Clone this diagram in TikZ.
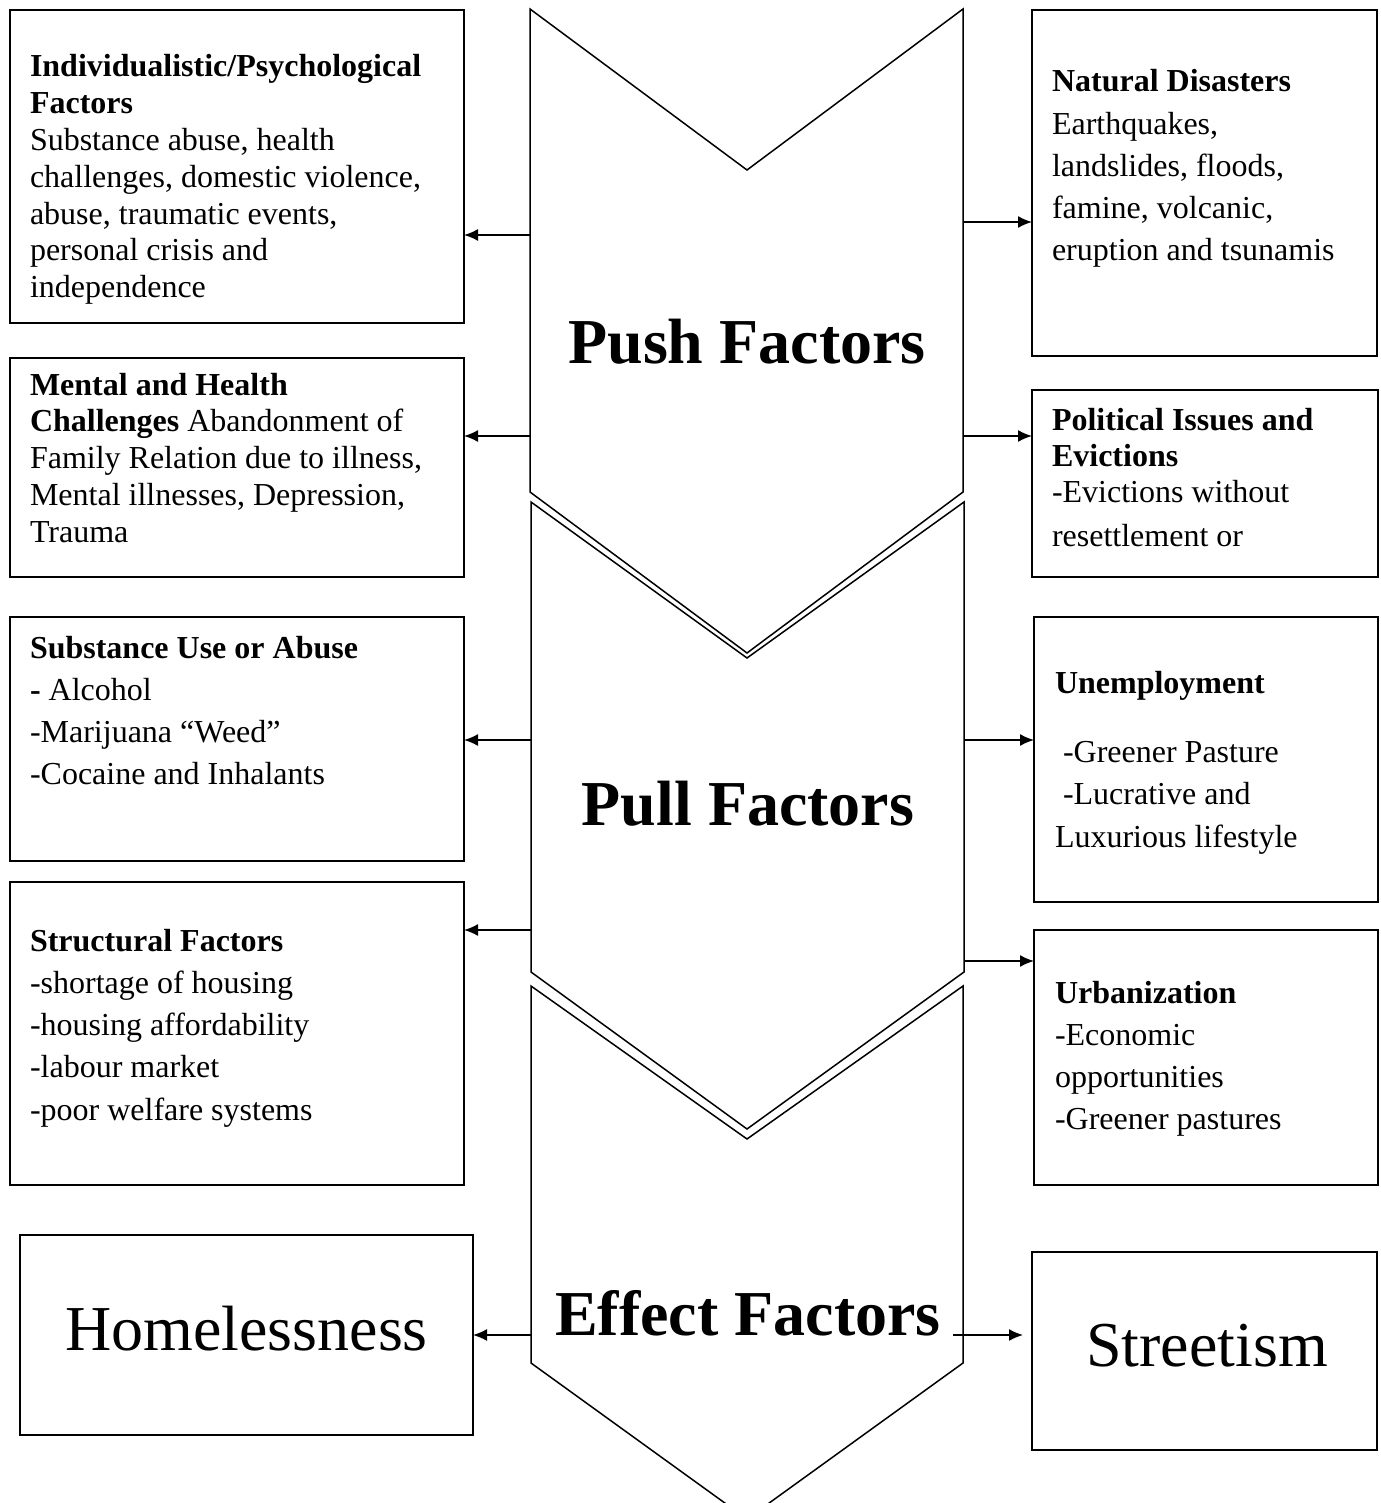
\documentclass[tikz,border=0pt]{standalone}
\usepackage{fontspec}
\setmainfont{Liberation Serif}
\usetikzlibrary{arrows.meta}
\newcommand\tightsp{\spaceskip=8pt plus 1pt minus 1pt\xspaceskip=8pt plus 1pt minus 1pt\relax}
\begin{document}
\begin{tikzpicture}[x=1pt,y=-1pt,
  box/.style={draw, line width=1.5pt, inner sep=0pt, outer sep=0pt, anchor=north west},
  txt/.style={anchor=base west, inner sep=0pt, outer sep=0pt, text width=420pt, font=\fontsize{32}{36.8}\selectfont, execute at begin node=\tightsp},
  rtxt/.style={txt, text width=320pt},
  big/.style={anchor=base, inner sep=0pt, font=\fontsize{64}{70}\selectfont},
  chev/.style={draw, fill=white, line width=1.5pt, line join=miter},
  arr/.style={line width=1.5pt, -{Latex[length=14pt,width=12pt]}}]
\useasboundingbox (0,0) rectangle (1380,1503);
\clip (0,0) rectangle (1380,1503);

% chevrons
\draw[chev] (530,9) -- (747,170) -- (963,9) -- (963,492) -- (747,653) -- (530,492) -- cycle;
\draw[chev] (531,502) -- (747,658) -- (964,502) -- (964,972) -- (747,1129) -- (531,972) -- cycle;
\draw[chev] (531,986) -- (747,1139) -- (963,986) -- (963,1363) -- (747,1519) -- (531,1363) -- cycle;

\node[big] (push) at (747,363) {\textbf{Push Factors}};
\node[big] (pull) at (748,825) {\textbf{Pull Factors}};
\node[big] (effect) at (748,1335) {\textbf{Effect Factors}};

% left boxes
\node[box, minimum width=454pt, minimum height=313pt] (L1) at (10,10) {};
\node[txt] (L1t) at (30,77) {\textbf{Individualistic/Psychological}\\\textbf{Factors}\\Substance abuse, health\\challenges, domestic violence,\\abuse, traumatic events,\\personal crisis and\\independence};

\node[box, minimum width=454pt, minimum height=219pt] (L2) at (10,358) {};
\node[txt] (L2t) at (30,395) {\textbf{Mental and Health}\\\textbf{Challenges} Abandonment of\\Family Relation due to illness,\\Mental illnesses, Depression,\\Trauma};

\node[box, minimum width=454pt, minimum height=244pt] (L3) at (10,617) {};
\node[txt, font=\fontsize{32}{42}\selectfont] (L3t) at (30,658) {\textbf{Substance Use or Abuse}\\\textbf{-} Alcohol\\-Marijuana “Weed”\\-Cocaine and Inhalants};

\node[box, minimum width=454pt, minimum height=303pt] (L4) at (10,882) {};
\node[txt, font=\fontsize{32}{42.3}\selectfont] (L4t) at (30,951) {\textbf{Structural Factors}\\-shortage of housing\\-housing affordability\\-labour market\\-poor welfare systems};

\node[box, minimum width=453pt, minimum height=200pt] (H) at (20,1235) {};
\node[anchor=base west, inner sep=0pt, font=\fontsize{64}{70}\selectfont] (Ht) at (65,1350) {Homelessness};

% right boxes
\node[box, minimum width=345pt, minimum height=346pt] (R1) at (1032,10) {};
\node[rtxt, font=\fontsize{32}{42.2}\selectfont] (R1t) at (1052,92) {\textbf{Natural Disasters}\\Earthquakes,\\landslides, floods,\\famine, volcanic,\\eruption and tsunamis};

\node[box, minimum width=346pt, minimum height=187pt] (R2) at (1032,390) {};
\node[rtxt, font=\fontsize{32}{36}\selectfont] (R2t) at (1052,430) {\textbf{Political Issues and}\\\textbf{Evictions}\\-Evictions without\\[8pt]resettlement or};

\node[box, minimum width=344pt, minimum height=285pt] (R3) at (1034,617) {};
\node[rtxt, font=\fontsize{32}{42.5}\selectfont] (R3t) at (1055,693) {\textbf{Unemployment}\\[26.5pt]\hspace*{8pt}-Greener Pasture\\\hspace*{8pt}-Lucrative and\\Luxurious lifestyle};

\node[box, minimum width=344pt, minimum height=255pt] (R4) at (1034,930) {};
\node[rtxt, font=\fontsize{32}{42.3}\selectfont] (R4t) at (1055,1003) {\textbf{Urbanization}\\-Economic\\opportunities\\-Greener pastures};

\node[box, minimum width=345pt, minimum height=198pt] (S) at (1032,1252) {};
\node[anchor=base west, inner sep=0pt, font=\fontsize{64}{70}\selectfont] (St) at (1086,1366) {Streetism};

% connectors
\coordinate (a1) at (530,235);
\coordinate (a2) at (530,436);
\coordinate (a3) at (531,740);
\coordinate (a4) at (531,930);
\coordinate (a5) at (531,1335);
\coordinate (b1) at (963,222);
\coordinate (b2) at (963,436);
\coordinate (b3) at (964,740);
\coordinate (b4) at (964,961);
\coordinate (b5) at (953,1335);
\coordinate (b5e) at (1023,1335);

\draw[arr] (a1) -- (a1 -| L1.east);
\draw[arr] (a2) -- (a2 -| L2.east);
\draw[arr] (a3) -- (a3 -| L3.east);
\draw[arr] (a4) -- (a4 -| L4.east);
\draw[arr] (a5) -- (a5 -| H.east);
\draw[arr] (b1) -- (b1 -| R1.west);
\draw[arr] (b2) -- (b2 -| R2.west);
\draw[arr] (b3) -- (b3 -| R3.west);
\draw[arr] (b4) -- (b4 -| R4.west);
\draw[arr] (b5) -- (b5e);
\end{tikzpicture}
\end{document}
